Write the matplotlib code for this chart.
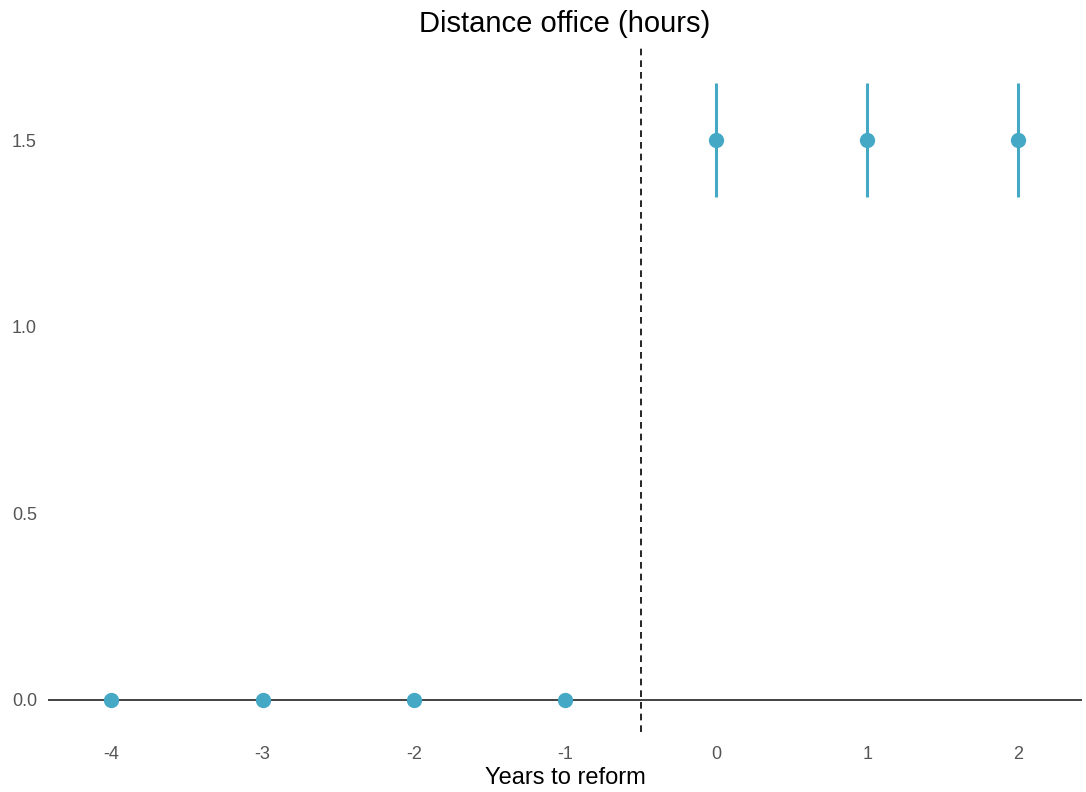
import matplotlib.pyplot as plt

years = [-4, -3, -2, -1, 0, 1, 2]
estimates = [0.0, 0.0, 0.0, 0.0, 1.5, 1.5, 1.5]
ci_low = [0.0, 0.0, 0.0, 0.0, 1.347, 1.347, 1.347]
ci_high = [0.0, 0.0, 0.0, 0.0, 1.653, 1.653, 1.653]
y_ticks = [0.0, 0.5, 1.0, 1.5]

color = "#45A9C6"

plt.rcParams["font.family"] = ["Liberation Sans", "DejaVu Sans"]

fig = plt.figure(figsize=(10.86, 7.92), dpi=100)
ax = fig.add_axes([0.0442, 0.0758, 0.952, 0.865])

ax.axhline(0, color="#222222", lw=1.2, zorder=1)
ax.axvline(-0.5, color="black", lw=1.2, ls=(0, (4, 3)), zorder=1)

err = [[e - lo for e, lo in zip(estimates, ci_low)],
       [hi - e for e, hi in zip(estimates, ci_high)]]
ax.errorbar(years, estimates, yerr=err, fmt="o", color=color,
            ms=10, elinewidth=2.2, capsize=0, zorder=3)

ax.set_xlim(-4.42, 2.42)
ax.set_ylim(-0.086, 1.75)
ax.set_xticks(years)
ax.set_xticklabels([str(y) for y in years])
ax.set_yticks(y_ticks)
ax.set_yticklabels([f"{t:.1f}" for t in y_ticks])

ax.tick_params(length=0, labelsize=13, labelcolor="#555555", pad=10)
ax.tick_params(axis="y", pad=8)
for s in ax.spines.values():
    s.set_visible(False)

ax.set_title("Distance office (hours)", fontsize=21, pad=11)
ax.set_xlabel("Years to reform", fontsize=17, labelpad=3)

fig.savefig("out.png", dpi=100)
